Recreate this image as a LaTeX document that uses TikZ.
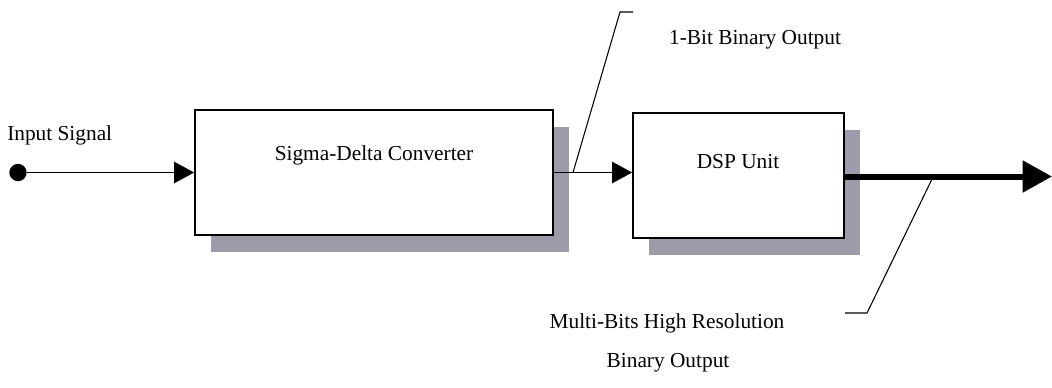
\documentclass[tikz,border=0pt]{standalone}
\usepackage{fontspec}
\setmainfont{Liberation Serif}
\usetikzlibrary{arrows.meta,shadows}
\definecolor{shadowgray}{RGB}{155,155,170}
\begin{document}
\begin{tikzpicture}[x=0.75pt,y=-0.75pt,
  every node/.style={font=\fontsize{16}{19}\selectfont, inner sep=0pt},
  blockbox/.style={draw, line width=1.3pt, fill=white, inner sep=0pt,
    drop shadow={shadow xshift=12pt, shadow yshift=-12.5pt, fill=shadowgray, opacity=1}},
  sig/.style={line width=1.1pt, -{Triangle[length=15pt,width=16pt]}},
  thicksig/.style={line width=4.5pt, -{Triangle[length=22pt,width=23pt]}},
  callout/.style={line width=0.8pt},
  lbl/.style={text=black}
]
\useasboundingbox (0,0) rectangle (1052,387);
\node[blockbox, minimum width=268.5pt, minimum height=93.75pt] (b1) at (374,172.5) {};
\node[blockbox, minimum width=158.25pt, minimum height=93.75pt] (b2) at (738.5,175.5) {};
\node[lbl] (t1) at (374,155) {Sigma-Delta Converter};
\node[lbl] (t2) at (738,162) {DSP Unit};
\node[circle, fill=black, minimum size=13pt] (in) at (18,172.5) {};
\node[lbl, anchor=west] (inlbl) at (7,135) {Input Signal};
\draw[sig] (in) -- (b1.west);
\draw[sig] (b1.east) -- (b1.east -| b2.west);
\coordinate (out) at (1052,176.5);
\draw[thicksig] (b2.east |- out) -- (out);
% callout 1
\coordinate (c1a) at (573,172.5);
\coordinate (c1b) at (620,12);
\coordinate (c1c) at (633,12);
\draw[callout] (c1a) -- (c1b) -- (c1c);
\node[lbl] (l1) at (755,40) {1-Bit Binary Output};
% callout 2
\coordinate (c2a) at (933,177);
\coordinate (c2b) at (867,313);
\coordinate (c2c) at (845,313);
\draw[callout] (c2a) -- (c2b) -- (c2c);
\node[lbl] (l2) at (667,323) {Multi-Bits High Resolution};
\node[lbl] (l3) at (668,363) {Binary Output};
\end{tikzpicture}
\end{document}
